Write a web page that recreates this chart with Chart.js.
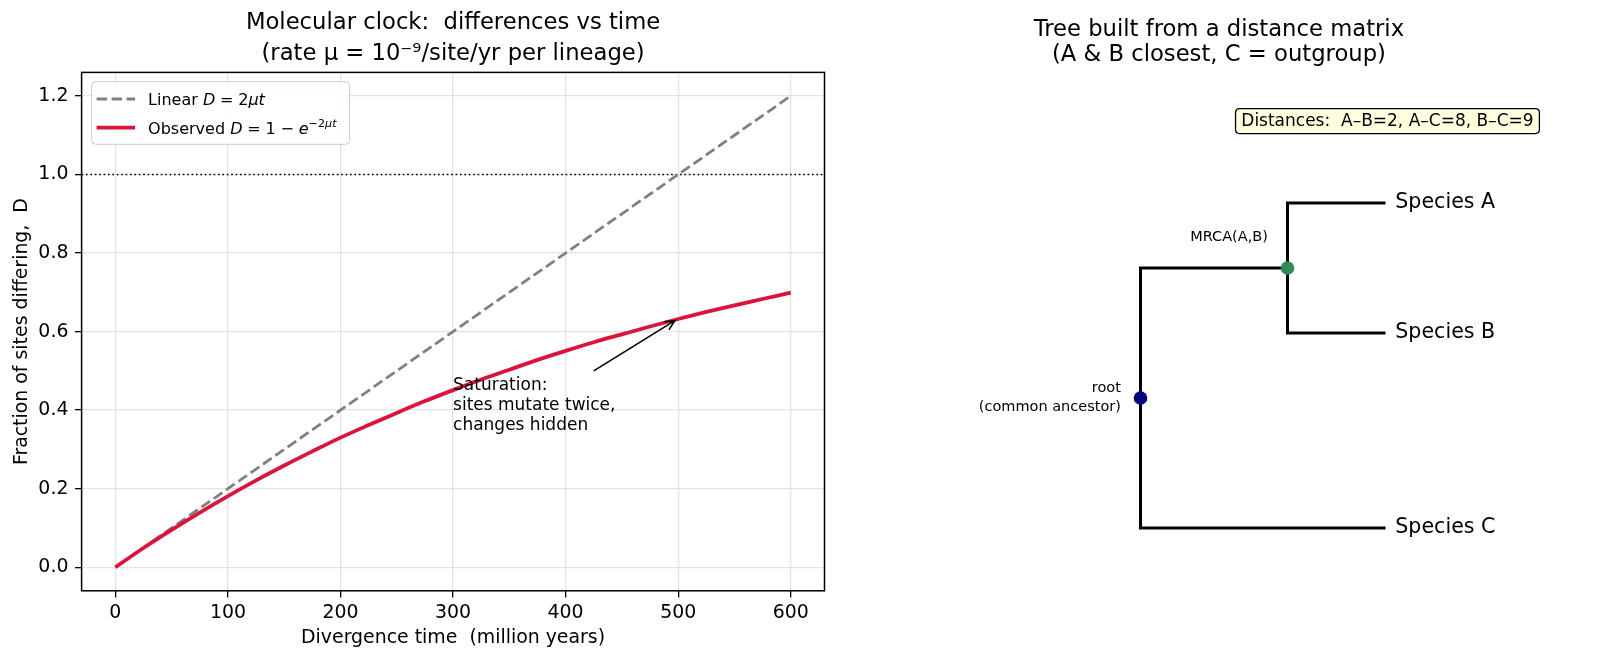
<!DOCTYPE html>
<html><head><meta charset="utf-8">
<script src="https://cdn.jsdelivr.net/npm/chart.js@4.4.1/dist/chart.umd.min.js"></script>
<style>
html,body{margin:0;padding:0;background:#fff;width:1600px;height:662px;overflow:hidden;}
#c1{position:absolute;left:0;top:0;}
#c2{position:absolute;left:860px;top:0;}
</style></head><body>
<canvas id="c1" width="840" height="662"></canvas>
<canvas id="c2" width="740" height="662"></canvas>
<script>
// ---------- data: left panel ----------
const divergenceTime = [0,25,50,75,100,125,150,175,200,225,250,275,300,325,350,375,400,425,450,475,500,525,550,575,600];
const observedD = [0,0.049,0.095,0.139,0.181,0.221,0.259,0.295,0.330,0.362,0.393,0.423,0.451,0.478,0.503,0.528,0.551,0.573,0.593,0.613,0.632,0.650,0.667,0.683,0.699];
const linearTime = [0,50,100,150,200,250,300,350,400,450,500,550,600];
const linearD = [0,0.1,0.2,0.3,0.4,0.5,0.6,0.7,0.8,0.9,1.0,1.1,1.2];
const xTicks = [0,100,200,300,400,500,600];
const yTicks = [0,0.2,0.4,0.6,0.8,1.0,1.2];
const saturationLevel = 1.0;
const arrowTip = [497,0.628];
const arrowTail = [425,0.50];
const noteAnchor = [300,0.35];
const noteLines = ['Saturation:','sites mutate twice,','changes hidden'];
const leftTitle = ['Molecular clock:  differences vs time','(rate μ = 10⁻⁹/site/yr per lineage)'];
const xLabel = 'Divergence time  (million years)';
const yLabel = 'Fraction of sites differing,  D';
const legendLabels = ['Linear D = 2μt','Observed D = 1 − e^(−2μt)'];

// ---------- data: right panel (tree) ----------
const nodeLabels = ['root\n(common ancestor)','MRCA(A,B)','Species A','Species B','Species C'];
const nodeX = [0,3,5,5,5];
const nodeY = [1.5,2.5,3,2,0.5];
const nodeParent = [-1,0,1,1,0];
const distPairs = ['A–B','A–C','B–C'];
const distValues = [2,8,9];
const distBoxAt = [5.04,3.63];
const rightTitle = ['Tree built from a distance matrix','(A & B closest, C = outgroup)'];

const FONT = '"DejaVu Sans", sans-serif';
Chart.defaults.font.family = FONT;
Chart.defaults.color = '#000';

// run = [text, italic, superscript, spaceBefore(em), spaceAfter(em)]
function drawRuns(ctx, runs, x, base, size){
  for (const r of runs){
    const s = r[2] ? size*0.7 : size;
    x += (r[3]||0)*size;
    ctx.font = (r[1] ? 'italic ' : '') + s + 'px ' + FONT;
    const dy = r[2] ? -size*0.42 : 0;
    ctx.fillText(r[0], x, base+dy);
    x += ctx.measureText(r[0]).width + (r[4]||0)*size;
  }
}
function roundRect(ctx,x,y,w,h,r){
  ctx.beginPath();
  ctx.moveTo(x+r,y);ctx.lineTo(x+w-r,y);ctx.quadraticCurveTo(x+w,y,x+w,y+r);
  ctx.lineTo(x+w,y+h-r);ctx.quadraticCurveTo(x+w,y+h,x+w-r,y+h);
  ctx.lineTo(x+r,y+h);ctx.quadraticCurveTo(x,y+h,x,y+h-r);
  ctx.lineTo(x,y+r);ctx.quadraticCurveTo(x,y,x+r,y);ctx.closePath();
}

const leftDecor = {
  id:'leftDecor',
  beforeDatasetsDraw(chart){
    const {ctx, chartArea:a, scales:{y}} = chart;
    const py = y.getPixelForValue(saturationLevel);
    ctx.save();
    ctx.setLineDash([1.6,2.8]); ctx.lineWidth=1.3; ctx.strokeStyle='#000';
    ctx.beginPath(); ctx.moveTo(a.left,py); ctx.lineTo(a.right,py); ctx.stroke();
    ctx.restore();
  },
  afterDatasetsDraw(chart){
    const {ctx, chartArea:a, scales:{x,y}} = chart;
    ctx.save();
    // frame
    ctx.strokeStyle='#000'; ctx.lineWidth=1.5;
    ctx.strokeRect(a.left,a.top,a.right-a.left,a.bottom-a.top);
    // annotation text
    ctx.fillStyle='#000'; ctx.font='17px '+FONT; ctx.textAlign='left'; ctx.textBaseline='alphabetic';
    const tx = x.getPixelForValue(noteAnchor[0]);
    const lastBase = y.getPixelForValue(noteAnchor[1]);
    const lh = 19.7;
    noteLines.forEach((t,i)=>{ ctx.fillText(t, tx, lastBase - (noteLines.length-1-i)*lh); });
    // arrow
    const sx=x.getPixelForValue(arrowTail[0]), sy=y.getPixelForValue(arrowTail[1]);
    const ex=x.getPixelForValue(arrowTip[0]), ey=y.getPixelForValue(arrowTip[1]);
    ctx.lineWidth=1.6; ctx.beginPath(); ctx.moveTo(sx,sy); ctx.lineTo(ex,ey); ctx.stroke();
    const ang=Math.atan2(ey-sy,ex-sx), hl=11, ha=0.45;
    ctx.beginPath();
    ctx.moveTo(ex-hl*Math.cos(ang-ha), ey-hl*Math.sin(ang-ha));
    ctx.lineTo(ex,ey);
    ctx.lineTo(ex-hl*Math.cos(ang+ha), ey-hl*Math.sin(ang+ha));
    ctx.stroke();
    // legend
    const bx=a.left+10, by=a.top+9.3, bw=258, bh=62.6;
    ctx.globalAlpha=0.85; ctx.fillStyle='#fff'; roundRect(ctx,bx,by,bw,bh,4); ctx.fill();
    ctx.globalAlpha=1; ctx.strokeStyle='#cccccc'; ctx.lineWidth=1; roundRect(ctx,bx,by,bw,bh,4); ctx.stroke();
    const ds = chart.data.datasets;
    const rows = [
      {ds: ds[1], cy: by+17.3, runs:[['Linear ',0,0],['D',1,0],['=',0,0,0.3,0.3],['2',0,0],['μt',1,0]]},
      {ds: ds[0], cy: by+46, runs:[['Observed ',0,0],['D',1,0],['=',0,0,0.3,0.3],['1',0,0],['−',0,0,0.3,0.3],['e',1,0],['−2',0,1],['μt',1,1]]}
    ];
    const fs = 16;
    rows.forEach(r=>{
      ctx.save();
      ctx.strokeStyle=r.ds.borderColor; ctx.lineWidth=r.ds.borderWidth;
      ctx.setLineDash(r.ds.borderDash||[]);
      ctx.beginPath(); ctx.moveTo(bx+5,r.cy); ctx.lineTo(bx+43.5,r.cy); ctx.stroke();
      ctx.restore();
      ctx.fillStyle='#000'; ctx.textBaseline='alphabetic'; ctx.textAlign='left';
      drawRuns(ctx, r.runs, bx+56.5, r.cy+0.365*fs, fs);
    });
    ctx.restore();
  }
};

new Chart(document.getElementById('c1'), {
  type:'line',
  data:{datasets:[
    {label:legendLabels[1], data:divergenceTime.map((t,i)=>({x:t,y:observedD[i]})),
     borderColor:'#dc143c', borderWidth:3.8, pointRadius:0, cubicInterpolationMode:'monotone', order:0, fill:false},
    {label:legendLabels[0], data:linearTime.map((t,i)=>({x:t,y:linearD[i]})),
     borderColor:'#808080', borderWidth:2.8, borderDash:[10.5,4.5], pointRadius:0, tension:0, order:1, fill:false}
  ]},
  options:{
    responsive:false, animation:false, events:[],
    layout:{padding:{left:0,right:15.5,top:0,bottom:0}},
    plugins:{
      legend:{display:false}, tooltip:{enabled:false},
      title:{display:true, text:leftTitle, fullSize:false, color:'#000',
        font:{size:22.7, weight:'normal', lineHeight:31/22.7}, padding:{top:7.5,bottom:2.9}}
    },
    scales:{
      x:{type:'linear', min:-30, max:630,
        afterBuildTicks:s=>{ s.ticks = xTicks.map(v=>({value:v})); },
        afterFit:s=>{ s.height = 71.2; },
        ticks:{autoSkip:false, maxRotation:0, font:{size:18.9}, color:'#000', padding:4, callback:v=>String(v)},
        grid:{color:'#e4e4e4', lineWidth:1.3, tickLength:6.6, tickColor:'#000', tickWidth:1.3},
        border:{display:false},
        title:{display:true, text:xLabel, font:{size:18.9}, color:'#000', padding:{top:0,bottom:12.7}}
      },
      y:{type:'linear', min:-0.06, max:1.26,
        afterBuildTicks:s=>{ s.ticks = yTicks.map(v=>({value:v})); },
        afterFit:s=>{ s.width = 81.6; },
        ticks:{autoSkip:false, font:{size:18.9}, color:'#000', padding:6.6, callback:v=>Number(v).toFixed(1)},
        grid:{color:'#e4e4e4', lineWidth:1.3, tickLength:6.6, tickColor:'#000', tickWidth:1.3},
        border:{display:false},
        title:{display:true, text:yLabel, font:{size:18.9}, color:'#000', padding:{top:10.4,bottom:0}}
      }
    }
  },
  plugins:[leftDecor]
});

// ---------- right panel ----------
const branchSets = [];
nodeParent.forEach((p,i)=>{
  if (p < 0) return;
  branchSets.push({
    label:'branch '+i,
    data:[{x:nodeX[p],y:nodeY[p]},{x:nodeX[p],y:nodeY[i]},{x:nodeX[i],y:nodeY[i]}],
    showLine:true, borderColor:'#000', borderWidth:3, pointRadius:0, tension:0,
    borderJoinStyle:'miter', borderCapStyle:'butt', order:2
  });
});
const internalIdx = nodeX.map((_,i)=>i).filter(i=>nodeParent.includes(i));
const leafIdx = nodeX.map((_,i)=>i).filter(i=>!nodeParent.includes(i));
const internalColors = {0:'#000080',1:'#2e8b57'};
branchSets.push({
  label:'nodes',
  data: internalIdx.map(i=>({x:nodeX[i],y:nodeY[i]})),
  showLine:false, pointRadius:6.8, pointBorderWidth:0,
  pointBackgroundColor: internalIdx.map(i=>internalColors[i]),
  pointBorderColor: internalIdx.map(i=>internalColors[i]), order:0
});

const rightDecor = {
  id:'rightDecor',
  afterDatasetsDraw(chart){
    const {ctx, scales:{x,y}} = chart;
    ctx.save(); ctx.fillStyle='#000';
    // leaf labels
    ctx.font='20.6px '+FONT; ctx.textAlign='left'; ctx.textBaseline='middle';
    leafIdx.forEach(i=>{ ctx.fillText(nodeLabels[i], x.getPixelForValue(nodeX[i]+0.2), y.getPixelForValue(nodeY[i])); });
    // internal labels
    ctx.font='14.5px '+FONT; ctx.textAlign='right';
    internalIdx.forEach(i=>{
      const lines = nodeLabels[i].split('\n');
      if (nodeParent[i] < 0){
        const px = x.getPixelForValue(nodeX[i]-0.4), py = y.getPixelForValue(nodeY[i]);
        const lh = 19.4;
        lines.forEach((t,k)=>ctx.fillText(t, px, py + (k-(lines.length-1)/2)*lh));
      } else {
        ctx.fillText(lines[0], x.getPixelForValue(nodeX[i]-0.4), y.getPixelForValue(nodeY[i]+0.24));
      }
    });
    // distances box
    const txt = 'Distances:  ' + distPairs.map((p,k)=>p+'='+distValues[k]).join(', ');
    ctx.font='17px '+FONT; ctx.textAlign='center'; ctx.textBaseline='middle';
    const cx = x.getPixelForValue(distBoxAt[0]), cy = y.getPixelForValue(distBoxAt[1]);
    const w = ctx.measureText(txt).width + 11.5, h = 25;
    roundRect(ctx, cx-w/2, cy-h/2, w, h, 4);
    ctx.fillStyle='#ffffe0'; ctx.fill();
    ctx.strokeStyle='#000'; ctx.lineWidth=1.3; ctx.stroke();
    ctx.fillStyle='#000'; ctx.fillText(txt, cx, cy+0.5);
    ctx.restore();
  }
};

new Chart(document.getElementById('c2'), {
  type:'scatter',
  data:{datasets:branchSets},
  options:{
    responsive:false, animation:false, events:[],
    layout:{padding:{left:35.5,right:57.7,top:0,bottom:69}},
    plugins:{
      legend:{display:false}, tooltip:{enabled:false},
      title:{display:true, text:rightTitle, fullSize:false, color:'#000',
        font:{size:22.7, weight:'normal', lineHeight:25/22.7}, padding:{top:17.5,bottom:5.5}}
    },
    scales:{
      x:{type:'linear', display:false, min:-5, max:8.2},
      y:{type:'linear', display:false, min:0, max:4}
    }
  },
  plugins:[rightDecor]
});
</script>
</body></html>
